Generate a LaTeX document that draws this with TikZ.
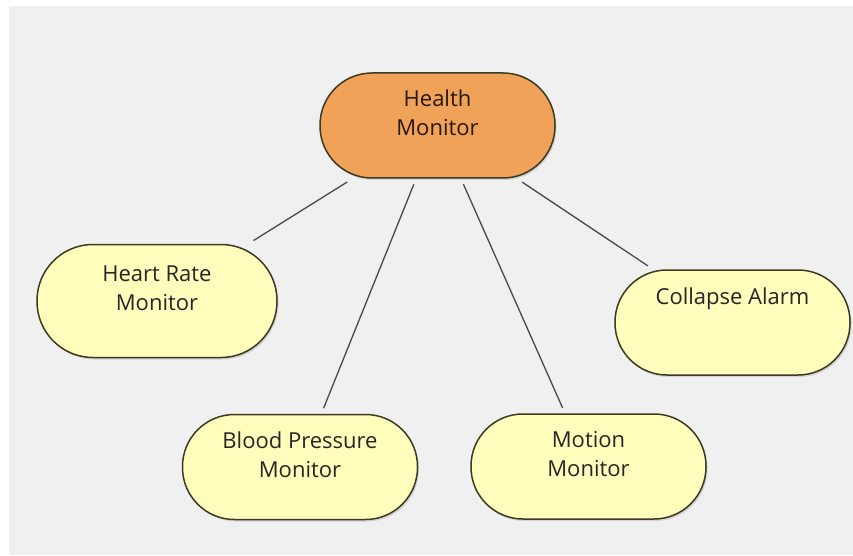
\documentclass[tikz,border=0pt]{standalone}
\usepackage{fontspec}
\setmainfont{Open Sans}
\usetikzlibrary{shadows}
\definecolor{pagegrey}{HTML}{F0F0F0}
\definecolor{rootfill}{HTML}{EFA258}
\definecolor{leaffill}{HTML}{FFFDBC}
\definecolor{rimcol}{HTML}{3C3A22}
\definecolor{linkcol}{HTML}{484850}
\begin{document}
\begin{tikzpicture}[x=1pt,y=-1pt,
  bubble/.style={draw=rimcol, line width=1.5pt, rectangle,
    rounded corners=52pt, minimum width=235pt, minimum height=105pt,
    align=center, font=\fontsize{22}{29}\selectfont, text=black!85,
    inner sep=0pt,
    drop shadow={shadow xshift=1.5pt, shadow yshift=-2pt, opacity=0.25}},
  rootbubble/.style={bubble, fill=rootfill, text=black!80!brown},
  leafbubble/.style={bubble, fill=leaffill},
  link/.style={draw=linkcol, line width=1.3pt, shorten <=6pt, shorten >=6pt}]
  \useasboundingbox (0,0) rectangle (853,556);
  \fill[white] (0,0) rectangle (853,556);
  \fill[pagegrey] (9,6) rectangle (853,555);

  \node[rootbubble, text depth=25pt] (hm) at (437.5,125.5) {Health\\Monitor};
  \node[leafbubble, minimum width=240pt, minimum height=113pt,
        rounded corners=56pt, text depth=25pt] (hr) at (157,301) {Heart Rate\\Monitor};
  \node[leafbubble, text depth=25pt] (bp) at (300,467) {Blood Pressure\\Monitor};
  \node[leafbubble, text depth=25pt] (mm) at (588.5,466.5) {Motion\\Monitor};
  \node[leafbubble, text depth=52pt] (ca) at (732.5,322.5) {Collapse Alarm};

  \draw[link] (hm) -- (hr);
  \draw[link] (hm) -- (bp);
  \draw[link] (hm) -- (mm);
  \draw[link] (hm) -- (ca);
\end{tikzpicture}
\end{document}
